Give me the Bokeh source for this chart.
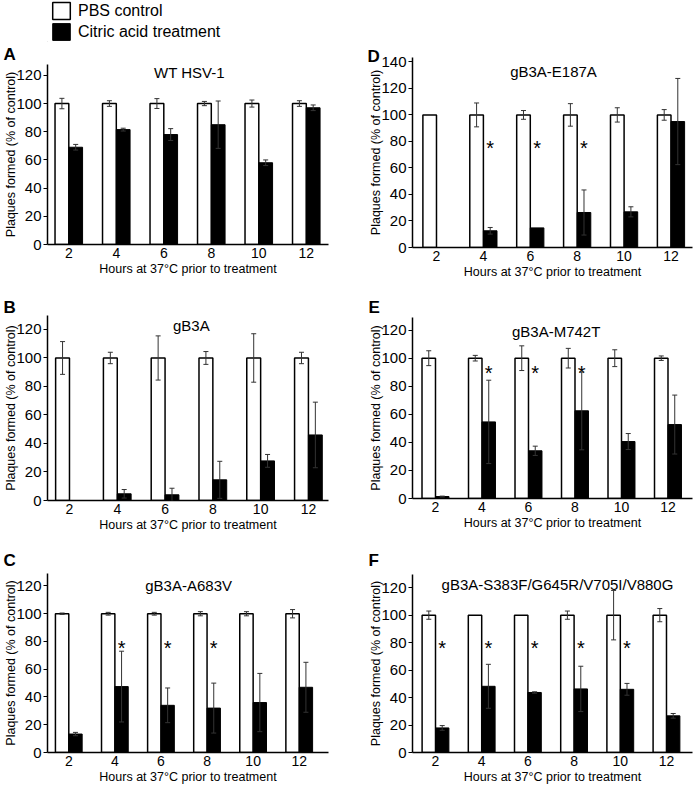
import numpy as np
from bokeh.plotting import figure
from bokeh.models import (ColumnDataSource, Whisker, TeeHead, Range1d, FixedTicker,
                          SingleIntervalTicker, Label, Legend, LegendItem)
from bokeh.layouts import row, column
from bokeh.embed import file_html
from bokeh.resources import INLINE
from bokeh.core.properties import value

# ---------------- data ----------------
hours = [2, 4, 6, 8, 10, 12]
series_names = ["PBS control", "Citric acid treatment"]
x_label = "Hours at 37°C prior to treatment"
y_label = "Plaques formed (% of control)"

# A: WT HSV-1
a_pbs = [100, 100, 100, 100, 100, 100]
a_pbs_err = [3.7, 2, 3.5, 1.5, 2.5, 2]
a_cit = [69, 81.5, 78, 85, 58, 97]
a_cit_err = [2, 1, 4.2, 16.8, 2, 2]
a_sig = []

# B: gB3A
b_pbs = [100, 100, 100, 100, 100, 100]
b_pbs_err = [11.5, 4, 15.5, 4.5, 17, 4]
b_cit = [0, 4.7, 4, 14.5, 27.8, 46]
b_cit_err = [0, 3, 4.6, 13, 4.5, 23]
b_sig = []

# C: gB3A-A683V
c_pbs = [100, 100, 100, 100, 100, 100]
c_pbs_err = [0.5, 1, 1, 1.5, 1.5, 3]
c_cit = [13.3, 47.5, 34, 32, 36, 47]
c_cit_err = [1.2, 25.5, 12.5, 18, 21, 18]
c_sig = [4, 6, 8]

# D: gB3A-E187A
d_pbs = [100, 100, 100, 100, 100, 100]
d_pbs_err = [0, 9, 3.3, 8.5, 5.4, 4]
d_cit = [0, 12.6, 14.8, 26.4, 26.9, 95]
d_cit_err = [0, 2.5, 0, 17, 3.8, 32.5]
d_sig = [4, 6, 8]

# E: gB3A-M742T
e_pbs = [100, 100, 100, 100, 100, 100]
e_pbs_err = [5.3, 2, 8.8, 7, 6, 1.6]
e_cit = [1.4, 54.6, 34, 62.5, 40.6, 52.7]
e_cit_err = [0.3, 29.7, 3.3, 27.8, 5.7, 21]
e_sig = [4, 6, 8]

# F: gB3A-S383F/G645R/V705I/V880G
f_pbs = [100, 100, 100, 100, 100, 100]
f_pbs_err = [3, 0, 0, 3, 18, 4.8]
f_cit = [17.9, 48.2, 43.7, 46.3, 46, 26.7]
f_cit_err = [1.7, 16, 0.5, 16.5, 4.3, 1.7]
f_sig = [2, 4, 6, 8, 10]

panel_data = {
    "A": ("WT HSV-1", a_pbs, a_pbs_err, a_cit, a_cit_err, a_sig),
    "B": ("gB3A", b_pbs, b_pbs_err, b_cit, b_cit_err, b_sig),
    "C": ("gB3A-A683V", c_pbs, c_pbs_err, c_cit, c_cit_err, c_sig),
    "D": ("gB3A-E187A", d_pbs, d_pbs_err, d_cit, d_cit_err, d_sig),
    "E": ("gB3A-M742T", e_pbs, e_pbs_err, e_cit, e_cit_err, e_sig),
    "F": ("gB3A-S383F/G645R/V705I/V880G", f_pbs, f_pbs_err, f_cit, f_cit_err, f_sig),
}

# ---------------- layout / style ----------------
FONT = "Liberation Sans"
BW = 0.58  # bar width in hour units
W = 350
L_MBL, L_MBR = 47, 22     # left column frame borders
R_MBL, R_MBR = 62, 8      # right column frame borders

geom = {
    "A": dict(h=243, mbl=L_MBL, mbr=L_MBR, mbt=20, mbb=41, xr=(1.103, 12.935), ytop=127.7,
              tx=7.08, ty=122, loff=-44, lso=1, sy=None),
    "B": dict(h=255, mbl=L_MBL, mbr=L_MBR, mbt=30, mbb=40, xr=(1.08, 12.84), ytop=129.8,
              tx=7.1, ty=123, loff=-44, lso=-3, sy=None),
    "C": dict(h=246, mbl=L_MBL, mbr=L_MBR, mbt=33, mbb=32, xr=(1.076, 13.27), ytop=129,
              tx=7.2, ty=120.4, loff=-44, lso=8, sy=79),
    "D": dict(h=285, mbl=R_MBL, mbr=R_MBR, mbt=57, mbb=38, xr=(0.977, 12.917), ytop=143.3,
              tx=6.99, ty=132.7, loff=-45, lso=-17, sy=79),
    "E": dict(h=255, mbl=R_MBL, mbr=R_MBR, mbt=32, mbb=42, xr=(1.011, 13.054), ytop=129,
              tx=7.19, ty=119, loff=-44, lso=1, sy=93),
    "F": dict(h=246, mbl=R_MBL, mbr=R_MBR, mbt=34, mbb=31, xr=(1.004, 13.126), ytop=129.6,
              tx=7.28, ty=122.4, loff=-44, lso=10, sy=80),
}


def make_panel(key):
    title, pbs, pbs_err, cit, cit_err, sig = panel_data[key]
    g = geom[key]
    p = figure(width=W, height=g["h"], output_backend="svg", toolbar_location=None,
               tools="", x_range=Range1d(*g["xr"]), y_range=Range1d(0, g["ytop"]),
               min_border_left=g["mbl"], min_border_right=g["mbr"],
               min_border_top=g["mbt"], min_border_bottom=g["mbb"])
    p.outline_line_color = None
    p.grid.visible = False
    p.background_fill_color = "white"
    p.border_fill_color = "white"

    h = np.array(hours, dtype=float)
    src = ColumnDataSource(dict(xw=h - BW / 2, xb=h + BW / 2, pbs=pbs, cit=cit))
    p.vbar(x="xw", top="pbs", bottom=0, width=BW, source=src,
           fill_color="white", line_color="black", line_width=1.5)
    p.vbar(x="xb", top="cit", bottom=0, width=BW, source=src,
           fill_color="black", line_color="black", line_width=1)

    # error bars (only where an error was drawn)
    for xs, vals, errs in ((h - BW / 2, pbs, pbs_err), (h + BW / 2, cit, cit_err)):
        m = np.array(errs) > 0
        v = np.array(vals, dtype=float)[m]
        e = np.array(errs, dtype=float)[m]
        es = ColumnDataSource(dict(x=xs[m], lo=v - e, hi=v + e))
        wk = Whisker(source=es, base="x", lower="lo", upper="hi", dimension="height",
                     line_color="#333333", line_width=1, level="overlay",
                     upper_head=TeeHead(size=5, line_color="#333333", line_width=1),
                     lower_head=TeeHead(size=5, line_color="#333333", line_width=1))
        p.add_layout(wk)

    # significance stars
    if sig:
        ss = ColumnDataSource(dict(x=[s + BW / 2 for s in sig], y=[g["sy"]] * len(sig),
                                   t=["*"] * len(sig)))
        p.text(x="x", y="y", text="t", source=ss, text_align="center",
               text_baseline="middle", y_offset=5, text_font=value(FONT),
               text_font_size="20px", text_color="black")

    # axes
    p.xaxis.ticker = FixedTicker(ticks=hours)
    p.yaxis.ticker = SingleIntervalTicker(interval=20)
    p.xaxis.axis_label = x_label
    p.yaxis.axis_label = y_label
    for ax in (p.xaxis[0], p.yaxis[0]):
        ax.axis_line_width = 1.5
        ax.axis_line_color = "black"
        ax.major_label_text_font = FONT
        ax.major_label_text_color = "black"
        ax.axis_label_text_font = FONT
        ax.axis_label_text_font_size = "12.5px"
        ax.axis_label_text_font_style = "normal"
        ax.axis_label_text_color = "black"
        ax.minor_tick_line_color = None
    p.xaxis.major_label_text_font_size = "14px"
    p.yaxis.major_label_text_font_size = "15px"
    p.xaxis.major_tick_line_color = None
    p.xaxis.major_tick_out = 0
    p.xaxis.major_tick_in = 0
    p.xaxis.major_label_standoff = 3
    p.xaxis.axis_label_standoff = 1
    p.yaxis.major_tick_out = 4
    p.yaxis.major_tick_in = 0
    p.yaxis.major_tick_line_width = 1
    p.yaxis.major_label_standoff = 2
    p.yaxis.axis_label_standoff = -5

    # panel title inside frame
    p.add_layout(Label(x=g["tx"], y=g["ty"], text=title, text_align="center",
                       text_baseline="middle", text_font=FONT,
                       text_font_size="15px", text_color="black"))
    # panel letter as the figure title, shifted to the left edge
    p.title.text = key
    p.title.align = "left"
    p.title.offset = g["loff"]
    p.title.standoff = g["lso"]
    p.title.text_font = FONT
    p.title.text_font_size = "17px"
    p.title.text_font_style = "bold"
    p.title.text_color = "black"
    return p


figs = {k: make_panel(k) for k in "ABCDEF"}

# legend strip above panel A
leg = figure(width=W, height=42, output_backend="svg", toolbar_location=None, tools="",
             x_range=Range1d(0, 1), y_range=Range1d(0, 1), x_axis_type=None,
             y_axis_type=None, min_border_left=L_MBL, min_border_right=L_MBR,
             min_border_top=0, min_border_bottom=0)
leg.outline_line_color = None
leg.grid.visible = False
dummy = ColumnDataSource(dict(x=[-10.0], top=[-10.0]))
lw = leg.vbar(x="x", top="top", bottom=-11, width=0.1, source=dummy, fill_color="white",
              line_color="black", line_width=1.5)
lb = leg.vbar(x="x", top="top", bottom=-11, width=0.1, source=dummy, fill_color="black",
              line_color="black", line_width=1)
legend = Legend(items=[LegendItem(label=series_names[0], renderers=[lw]),
                       LegendItem(label=series_names[1], renderers=[lb])],
                location=(3, 0), orientation="vertical", padding=0, margin=0,
                spacing=0, glyph_width=22, glyph_height=21, label_height=21,
                label_standoff=6, label_text_font=FONT, label_text_font_size="16px",
                label_text_color="black", background_fill_alpha=0, border_line_alpha=0)
leg.add_layout(legend)

layout = row(column(leg, figs["A"], figs["B"], figs["C"]),
             column(figs["D"], figs["E"], figs["F"]))

open("out.html", "w").write(file_html(layout, INLINE))
